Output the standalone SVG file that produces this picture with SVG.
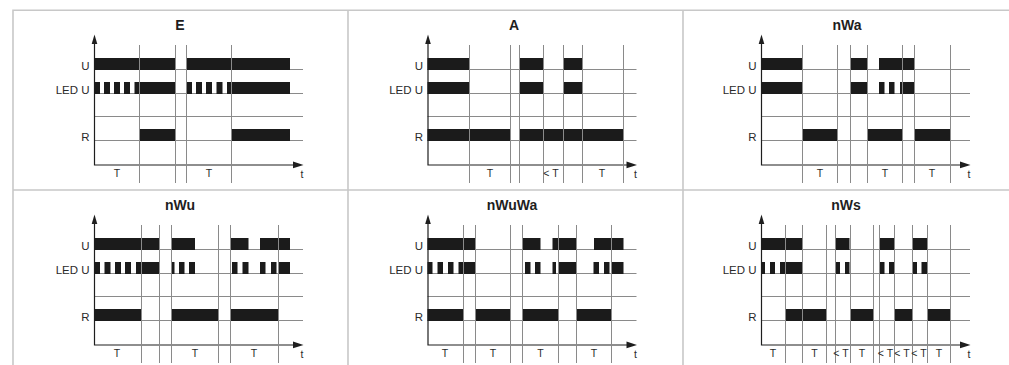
<svg xmlns="http://www.w3.org/2000/svg" width="1009" height="365" viewBox="0 0 1009 365">
  <style>
    .frame { stroke: #c8c8c8; stroke-width: 1.6; fill: none; }
    .grid { stroke: #8a8a8a; stroke-width: 1; fill: none; }
    .axis { stroke: #1e1e1e; stroke-width: 1.2; fill: none; }
    .head { fill: #1e1e1e; }
    .bar { stroke: #1b1b1b; stroke-width: 12; fill: none; }
    .lbl { font-family: "Liberation Sans", Arial, sans-serif; font-size: 11.5px; fill: #2a2a2a; }
    .tl { font-family: "Liberation Sans", Arial, sans-serif; font-size: 10.5px; fill: #2a2a2a; text-anchor: middle; }
    .ttl { font-family: "Liberation Sans", Arial, sans-serif; font-size: 14px; font-weight: bold; fill: #1e1e1e; text-anchor: middle; }
  </style>
  <defs>
    <!-- empty chart frame: signal baselines, axes and arrowheads, relative to the y axis at x=0 -->
    <g id="chart">
      <path class="grid" d="M0 69.5H209M0 93.5H209M0 116.5H209M0 140.5H209"/>
      <path class="axis" d="M0.5 42V165H203"/>
      <polygon class="head" points="0.5,34.5 -2.3,44 3.3,44"/>
      <polygon class="head" points="209.5,165 199,161.5 199,168.3"/>
    </g>
  </defs>

  <rect width="1009" height="365" fill="#ffffff"/>

  <!-- table frame -->
  <g id="table">
    <path class="frame" d="M13 365V10.2H1009M13 190H1009M348 10.2V365M683 10.2V365"/>
  </g>

  <!-- E -->
  <g id="panel-E">
    <text class="ttl" x="180" y="29.5">E</text>
    <use href="#chart" x="94" y="0"/>
    <path class="bar" d="M94 64H175.5M186.5 64H290"/>
    <path class="bar" d="M94 88H100M104 88H110M114 88H120M124 88H130M134.5 88H175.5M186.5 88H192M196 88H202M206 88H212M216.5 88H222.5M227 88H290"/>
    <path class="bar" d="M139.5 135H175.5M231.5 135H290"/>
    <path class="grid" d="M139.5 45V183M175.5 45V183M186.5 45V183M231.5 45V183"/>
    <text class="lbl" x="89.5" y="70" text-anchor="end">U</text>
    <text class="lbl" x="89.5" y="94" text-anchor="end">LED U</text>
    <text class="lbl" x="89.5" y="140.5" text-anchor="end">R</text>
    <text class="tl" x="117" y="177">T</text>
    <text class="tl" x="209" y="177">T</text>
    <text class="tl" x="302" y="177.5">t</text>
  </g>

  <!-- A -->
  <g id="panel-A">
    <text class="ttl" x="514" y="29.5">A</text>
    <use href="#chart" x="427.5" y="0"/>
    <path class="bar" d="M427.5 64H469.5M519.5 64H543.5M563.5 64H582.5"/>
    <path class="bar" d="M427.5 88H469.5M519.5 88H543.5M563.5 88H582.5"/>
    <path class="bar" d="M427.5 135H510.5M519.5 135H623.5"/>
    <path class="grid" d="M469.5 45V183M510.5 45V183M519.5 45V183M543.5 45V183M563.5 45V183M582.5 45V183M623.5 45V183"/>
    <text class="lbl" x="423" y="70" text-anchor="end">U</text>
    <text class="lbl" x="423" y="94" text-anchor="end">LED U</text>
    <text class="lbl" x="423" y="140.5" text-anchor="end">R</text>
    <text class="tl" x="490" y="177">T</text>
    <text class="tl" x="551" y="177">&lt; T</text>
    <text class="tl" x="602" y="177">T</text>
    <text class="tl" x="635.5" y="177.5">t</text>
  </g>

  <!-- nWa -->
  <g id="panel-nWa">
    <text class="ttl" x="847" y="29.5">nWa</text>
    <use href="#chart" x="761" y="0"/>
    <path class="bar" d="M761 64H802.5M850.5 64H867.5M879 64H914.5"/>
    <path class="bar" d="M761 88H802.5M850.5 88H867.5M879 88H884.5M889 88H894.5M900 88H914.5"/>
    <path class="bar" d="M802.5 135H837.5M867.5 135H902.5M914.5 135H950.5"/>
    <path class="grid" d="M802.5 45V183M837.5 45V183M850.5 45V183M867.5 45V183M902.5 45V183M914.5 45V183M950.5 45V183"/>
    <text class="lbl" x="756.5" y="70" text-anchor="end">U</text>
    <text class="lbl" x="756.5" y="94" text-anchor="end">LED U</text>
    <text class="lbl" x="756.5" y="140.5" text-anchor="end">R</text>
    <text class="tl" x="820" y="177">T</text>
    <text class="tl" x="885" y="177">T</text>
    <text class="tl" x="932" y="177">T</text>
    <text class="tl" x="969" y="177.5">t</text>
  </g>

  <!-- nWu -->
  <g id="panel-nWu" transform="translate(0,180)">
    <text class="ttl" x="180" y="29.5">nWu</text>
    <use href="#chart" x="94" y="0"/>
    <path class="bar" d="M94 64H159.5M171.5 64H195M231 64H248.5M260 64H290"/>
    <path class="bar" d="M94 88H100M104.5 88H110.5M115 88H121M125 88H131M136 88H159.5M171.5 88H174.5M179 88H184.5M189 88H195M232 88H237.5M242.5 88H248.5M260 88H265.5M271 88H276.5M278.5 88H290"/>
    <path class="bar" d="M94 135H141.5M171.5 135H218.5M230.5 135H278.5"/>
    <path class="grid" d="M141.5 45V183M159.5 45V183M171.5 45V183M218.5 45V183M230.5 45V183M278.5 45V183"/>
    <text class="lbl" x="89.5" y="70" text-anchor="end">U</text>
    <text class="lbl" x="89.5" y="94" text-anchor="end">LED U</text>
    <text class="lbl" x="89.5" y="140.5" text-anchor="end">R</text>
    <text class="tl" x="117" y="177">T</text>
    <text class="tl" x="195" y="177">T</text>
    <text class="tl" x="254" y="177">T</text>
    <text class="tl" x="302" y="177.5">t</text>
  </g>

  <!-- nWuWa -->
  <g id="panel-nWuWa" transform="translate(0,180)">
    <text class="ttl" x="512" y="29.5">nWuWa</text>
    <use href="#chart" x="427.5" y="0"/>
    <path class="bar" d="M427.5 64H475.5M522.5 64H540.5M552.5 64H576.5M594 64H623.5"/>
    <path class="bar" d="M427.5 88H432.5M437.5 88H443M448 88H453.5M458.5 88H475.5M525 88H530.5M535 88H540.5M552.5 88H556M558.5 88H576.5M593.5 88H599M604 88H609.5M611.5 88H623.5"/>
    <path class="bar" d="M427.5 135H463.5M475.5 135H510.5M522.5 135H558.5M576.5 135H611.5"/>
    <path class="grid" d="M463.5 45V183M475.5 45V183M510.5 45V183M522.5 45V183M558.5 45V183M576.5 45V183M611.5 45V183"/>
    <text class="lbl" x="423" y="70" text-anchor="end">U</text>
    <text class="lbl" x="423" y="94" text-anchor="end">LED U</text>
    <text class="lbl" x="423" y="140.5" text-anchor="end">R</text>
    <text class="tl" x="445" y="177">T</text>
    <text class="tl" x="493" y="177">T</text>
    <text class="tl" x="540.5" y="177">T</text>
    <text class="tl" x="594" y="177">T</text>
    <text class="tl" x="635.5" y="177.5">t</text>
  </g>

  <!-- nWs -->
  <g id="panel-nWs" transform="translate(0,180)">
    <text class="ttl" x="846" y="29.5">nWs</text>
    <use href="#chart" x="761" y="0"/>
    <path class="bar" d="M761 64H802.5M835.5 64H849.5M880 64H894.5M912.5 64H927"/>
    <path class="bar" d="M761 88H765M770 88H775M780 88H802.5M835.5 88H840M845 88H849.5M880 88H884.5M889 88H894.5M912.5 88H917M921.5 88H927"/>
    <path class="bar" d="M785.5 135H826.5M850.5 135H873.5M894.5 135H912.5M927.5 135H950.5"/>
    <path class="grid" d="M785.5 45V183M802.5 45V183M826.5 45V183M835.5 45V183M850.5 45V183M873.5 45V183M879.5 45V183M894.5 45V183M912.5 45V183M927.5 45V183M950.5 45V183"/>
    <text class="lbl" x="756.5" y="70" text-anchor="end">U</text>
    <text class="lbl" x="756.5" y="94" text-anchor="end">LED U</text>
    <text class="lbl" x="756.5" y="140.5" text-anchor="end">R</text>
    <text class="tl" x="773" y="177">T</text>
    <text class="tl" x="814.5" y="177">T</text>
    <text class="tl" x="841" y="177">&lt; T</text>
    <text class="tl" x="862" y="177">T</text>
    <text class="tl" x="885.5" y="177">&lt; T</text>
    <text class="tl" x="902" y="177">&lt; T</text>
    <text class="tl" x="919" y="177">&lt; T</text>
    <text class="tl" x="939" y="177">T</text>
    <text class="tl" x="969" y="177.5">t</text>
  </g>
</svg>
